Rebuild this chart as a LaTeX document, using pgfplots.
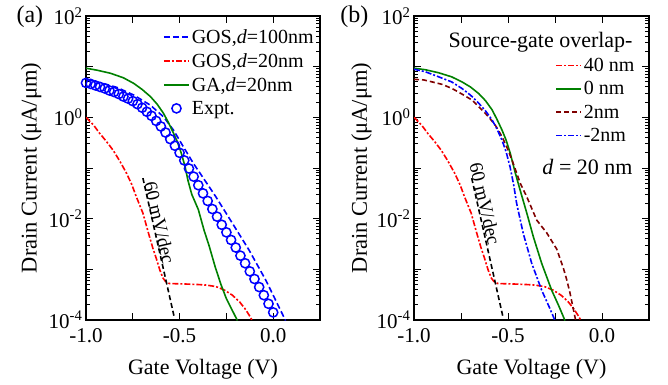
\documentclass[border=0pt]{standalone}
\usepackage{fontspec}
\setmainfont{Liberation Serif}
\usepackage{pgfplots}
\pgfplotsset{compat=1.18}
\definecolor{cgreen}{RGB}{0,128,0}
\definecolor{cdred}{RGB}{128,0,0}
\definecolor{cblue}{RGB}{0,0,255}
\definecolor{cred}{RGB}{255,0,0}
\tikzset{
  c100/.style={cblue, line width=1.6pt, dash pattern=on 6pt off 3pt},
  cdd/.style={cred, line width=1.6pt, dash pattern=on 6pt off 2pt on 2pt off 2pt},
  cga/.style={cgreen, line width=1.6pt},
  cbk/.style={black, line width=1.6pt, dash pattern=on 5pt off 3pt},
  cdr/.style={cdred, line width=1.6pt, dash pattern=on 5pt off 3pt},
  cbd/.style={cblue, line width=1.6pt, dash pattern=on 6pt off 2pt on 2pt off 2pt},
}
\pgfplotsset{
  legline/.style={legend image code/.code={\draw[##1] (0pt,0pt) -- (25pt,0pt);}},
  legmark/.style={legend image code/.code={\draw[##1] plot coordinates {(12.5pt,0pt)};}},
}
\begin{document}
\begin{tikzpicture}[font=\fontsize{21}{25}\selectfont]
\path[use as bounding box] (0pt,0pt) rectangle (668pt,-384pt);
% ---------------- panel (a)
\begin{axis}[scale only axis, width=234pt, height=304pt, at={(86pt,-320pt)}, anchor=south west,
    ymode=log, xmin=-1, xmax=0.25, ymin=1e-4, ymax=100,
    clip mode=individual,
    xtick={-1,-0.75,-0.5,-0.25,0,0.25},
    xticklabels={-1.0,,-0.5,,0.0,},
    ytick={1e-4,1e-3,1e-2,1e-1,1,10,100},
    yticklabels={10\textsuperscript{-4},,10\textsuperscript{-2},,10\textsuperscript{0},,10\textsuperscript{2}},
    minor ytick={2e-4,3e-4,4e-4,5e-4,6e-4,7e-4,8e-4,9e-4,
                 2e-3,3e-3,4e-3,5e-3,6e-3,7e-3,8e-3,9e-3,
                 2e-2,3e-2,4e-2,5e-2,6e-2,7e-2,8e-2,9e-2,
                 0.2,0.3,0.4,0.5,0.6,0.7,0.8,0.9,
                 2,3,4,5,6,7,8,9,20,30,40,50,60,70,80,90},
    tick align=inside, major tick length=7pt, minor tick length=4pt,
    every tick/.style={black, line width=1pt},
    axis line style={line width=1.8pt},
    tick label style={font=\fontsize{21}{25}\selectfont},
    xticklabel style={yshift=-5pt},
    xlabel={Gate Voltage (V)},
    ylabel={Drain Current (μA/μm)},
    xlabel style={at={(axis description cs:0.5,-0.178)}, anchor=base, font=\fontsize{22}{26}\selectfont},
    ylabel style={at={(axis description cs:-0.211,0.5)}, anchor=base, font=\fontsize{22.5}{26}\selectfont},
    legend cell align=left, legline,
    legend style={draw=none, fill=none, at={(axis description cs:0.329,0.963)}, anchor=north west,
      inner sep=0pt, row sep=4.5pt, font=\fontsize{20}{24}\selectfont, nodes={inner sep=2pt, text depth=0.15em}}]
\addplot[c100] coordinates {
(-1.000,5.623) (-0.900,4.571) (-0.834,3.890) (-0.745,2.754) (-0.656,1.738) (-0.586,1.023)
(-0.533,0.5623) (-0.480,0.263) (-0.426,0.1230) (-0.373,0.0631) (-0.306,0.02692)
(-0.218,8.128e-3) (-0.129,2.399e-3) (-0.040,6.166e-4) (0.066,9.772e-5)};
\addlegendentry{GOS,\textit{d}=100nm}
\addplot[cdd] coordinates {
(-1.000,1.0) (-0.960,0.7079) (-0.926,0.4786) (-0.890,0.3311) (-0.855,0.2239) (-0.820,0.1380)
(-0.784,0.07943) (-0.755,0.04677) (-0.731,0.02692) (-0.696,0.01288) (-0.669,5.623e-3)
(-0.643,2.630e-3) (-0.625,1.660e-3) (-0.605,9.550e-4) (-0.589,6.761e-4) (-0.575,5.754e-4)
(-0.554,5.248e-4) (-0.465,5.129e-4) (-0.400,5.012e-4) (-0.359,4.898e-4) (-0.306,4.571e-4)
(-0.260,3.890e-4) (-0.218,3.090e-4) (-0.180,2.291e-4) (-0.150,1.660e-4) (-0.129,1.259e-4)
(-0.112,9.772e-5)};
\addlegendentry{GOS,\textit{d}=20nm}
\addplot[cga] coordinates {
(-1.000,9.33) (-0.940,8.51) (-0.869,7.41) (-0.800,6.03) (-0.745,4.68) (-0.700,3.55)
(-0.656,2.57) (-0.620,1.82) (-0.586,1.20) (-0.560,0.794) (-0.533,0.490) (-0.510,0.316)
(-0.490,0.1905) (-0.471,0.1072) (-0.455,0.05623) (-0.435,0.0302) (-0.400,0.01514)
(-0.370,6.026e-3) (-0.342,2.884e-3) (-0.310,1.122e-3) (-0.279,5.012e-4) (-0.250,2.630e-4)
(-0.220,1.585e-4) (-0.191,9.772e-5)};
\addlegendentry{GA,\textit{d}=20nm}
\addplot[cblue, only marks, mark=o, mark size=4.6pt, mark options={line width=1.5pt}, legmark] coordinates {
(-1.000,4.786) (-0.975,4.571) (-0.950,4.266) (-0.925,3.981) (-0.900,3.715) (-0.875,3.388)
(-0.850,3.162) (-0.825,2.884) (-0.800,2.570) (-0.775,2.344) (-0.750,2.089) (-0.725,1.820)
(-0.700,1.549) (-0.675,1.288) (-0.650,1.072) (-0.625,0.8511) (-0.600,0.6607) (-0.575,0.5012)
(-0.550,0.3715) (-0.525,0.2754) (-0.500,0.1995) (-0.475,0.1413) (-0.450,0.09772)
(-0.425,0.06761) (-0.400,0.04571) (-0.375,0.03162) (-0.350,0.02239) (-0.325,0.01549)
(-0.300,0.01096) (-0.275,7.586e-3) (-0.250,5.370e-3) (-0.225,3.802e-3) (-0.200,2.692e-3)
(-0.175,1.862e-3) (-0.150,1.318e-3) (-0.125,9.120e-4) (-0.100,6.457e-4) (-0.075,4.467e-4)
(-0.050,3.090e-4) (-0.025,2.089e-4) (0.000,1.413e-4)};
\addlegendentry{Expt.}
\addplot[cbk, forget plot] coordinates {(-0.696,0.0631) (-0.527,1.072e-4)};
\node[rotate=-77, font=\fontsize{19}{22}\selectfont] at (axis cs:-0.607,8.318e-3) {60 mV/dec};
\node[anchor=base west, font=\fontsize{24}{28}\selectfont] at (axis description cs:-0.312,0.980) {(a)};
\end{axis}
% ---------------- panel (b)
\begin{axis}[scale only axis, width=235pt, height=304pt, at={(414pt,-320pt)}, anchor=south west,
    ymode=log, xmin=-1, xmax=0.25, ymin=1e-4, ymax=100,
    clip mode=individual,
    xtick={-1,-0.75,-0.5,-0.25,0,0.25},
    xticklabels={-1.0,,-0.5,,0.0,},
    ytick={1e-4,1e-3,1e-2,1e-1,1,10,100},
    yticklabels={10\textsuperscript{-4},,10\textsuperscript{-2},,10\textsuperscript{0},,10\textsuperscript{2}},
    minor ytick={2e-4,3e-4,4e-4,5e-4,6e-4,7e-4,8e-4,9e-4,
                 2e-3,3e-3,4e-3,5e-3,6e-3,7e-3,8e-3,9e-3,
                 2e-2,3e-2,4e-2,5e-2,6e-2,7e-2,8e-2,9e-2,
                 0.2,0.3,0.4,0.5,0.6,0.7,0.8,0.9,
                 2,3,4,5,6,7,8,9,20,30,40,50,60,70,80,90},
    tick align=inside, major tick length=7pt, minor tick length=4pt,
    every tick/.style={black, line width=1pt},
    axis line style={line width=1.8pt},
    tick label style={font=\fontsize{21}{25}\selectfont},
    xticklabel style={yshift=-5pt},
    xlabel={Gate Voltage (V)},
    ylabel={Drain Current (μA/μm)},
    xlabel style={at={(axis description cs:0.5,-0.178)}, anchor=base, font=\fontsize{22}{26}\selectfont},
    ylabel style={at={(axis description cs:-0.201,0.5)}, anchor=base, font=\fontsize{22.5}{26}\selectfont},
    legend cell align=left, legline,
    legend style={draw=none, fill=none, at={(axis description cs:0.600,0.869)}, anchor=north west,
      inner sep=0pt, row sep=4.6pt, font=\fontsize{20}{24}\selectfont, nodes={inner sep=2pt, text depth=0.15em}}]
\addplot[cdd] coordinates {
(-1.000,1.0) (-0.960,0.7079) (-0.926,0.4786) (-0.890,0.3311) (-0.855,0.2239) (-0.820,0.1380)
(-0.784,0.07943) (-0.755,0.04677) (-0.731,0.02692) (-0.696,0.01288) (-0.669,5.623e-3)
(-0.643,2.630e-3) (-0.625,1.660e-3) (-0.605,9.550e-4) (-0.589,6.761e-4) (-0.575,5.754e-4)
(-0.554,5.248e-4) (-0.465,5.129e-4) (-0.400,5.012e-4) (-0.359,4.898e-4) (-0.306,4.571e-4)
(-0.260,3.890e-4) (-0.218,3.090e-4) (-0.180,2.291e-4) (-0.150,1.660e-4) (-0.129,1.259e-4)
(-0.112,9.772e-5)};
\addlegendentry{40 nm}
\addplot[cga] coordinates {
(-1.000,9.333) (-0.940,8.710) (-0.869,7.586) (-0.800,6.310) (-0.745,5.012) (-0.700,3.981)
(-0.656,2.951) (-0.620,2.138) (-0.585,1.413) (-0.560,0.9333) (-0.532,0.5623) (-0.510,0.3548)
(-0.488,0.1950) (-0.461,0.07943) (-0.436,0.03715) (-0.400,0.01288) (-0.365,4.365e-3)
(-0.321,1.318e-3) (-0.268,3.890e-4) (-0.230,1.905e-4) (-0.197,9.772e-5)};
\addlegendentry{0 nm}
\addplot[cdr] coordinates {
(-1.000,5.623) (-0.950,5.495) (-0.904,5.012) (-0.850,4.467) (-0.798,3.715) (-0.745,2.884)
(-0.691,2.188) (-0.650,1.549) (-0.603,1.023) (-0.565,0.6761) (-0.532,0.4169) (-0.505,0.2512)
(-0.479,0.1445) (-0.454,0.07943) (-0.435,0.05012) (-0.400,0.02692) (-0.347,9.333e-3)
(-0.294,5.248e-3) (-0.241,2.512e-3) (-0.206,1.072e-3) (-0.188,6.310e-4) (-0.170,3.388e-4)
(-0.140,9.772e-5)};
\addlegendentry{2nm}
\addplot[cbd] coordinates {
(-1.000,8.913) (-0.940,7.943) (-0.869,6.310) (-0.800,5.012) (-0.745,3.715) (-0.700,2.754)
(-0.656,1.905) (-0.620,1.349) (-0.585,0.8913) (-0.560,0.6026) (-0.532,0.3548) (-0.510,0.2089)
(-0.489,0.1047) (-0.470,0.04677) (-0.454,0.01995) (-0.419,5.129e-3) (-0.374,1.318e-3)
(-0.321,3.890e-4) (-0.280,1.778e-4) (-0.250,9.772e-5)};
\addlegendentry{-2nm}
\addplot[cbk, forget plot] coordinates {(-0.693,0.0631) (-0.525,1.072e-4)};
\node[rotate=-77, font=\fontsize{19}{22}\selectfont] at (axis cs:-0.622,0.01995) {60 mV/dec};
\node[anchor=base east, font=\fontsize{22}{26}\selectfont] at (axis description cs:0.945,0.898) {Source-gate overlap-};
\node[anchor=base east, font=\fontsize{22}{26}\selectfont] at (axis description cs:0.945,0.480) {\textit{d} = 20 nm};
\node[anchor=base west, font=\fontsize{24}{28}\selectfont] at (axis description cs:-0.328,0.980) {(b)};
\end{axis}
\end{tikzpicture}
\end{document}
